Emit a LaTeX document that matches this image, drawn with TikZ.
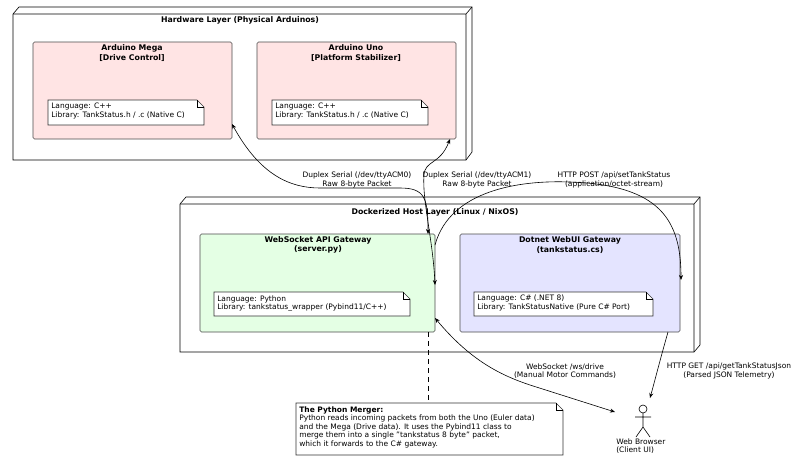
\documentclass[tikz,border=0pt]{standalone}
\usepackage{fontspec}
\setmainfont{DejaVu Sans}
\usetikzlibrary{arrows.meta}
\definecolor{pinkf}{HTML}{FFE4E4}
\definecolor{greenf}{HTML}{E4FFE4}
\definecolor{bluef}{HTML}{E4E4FF}
\begin{document}
\begin{tikzpicture}[x=1pt,y=-1pt,line width=0.6pt,
 every node/.style={font=\fontsize{7.5}{8.6}\selectfont,inner sep=0pt},
 lbl/.style={align=center},
 ttl/.style={align=center,font=\fontsize{7.8}{9.4}\selectfont\bfseries},
 comp/.style={draw=black!70,rounded corners=1.5pt},
 note/.style={draw=black!80,fill=white},
 arr/.style={-{Stealth[length=5pt,width=4pt]}},
 barr/.style={{Stealth[length=5pt,width=4pt]}-{Stealth[length=5pt,width=4pt]}}]
\useasboundingbox (0,0) rectangle (806,466);
% hardware 3D node
\draw[fill=white] (13,14) -- (19,7) -- (472,7) -- (472,152) -- (466,160) -- (13,160) -- cycle;
\draw (13,14) -- (466,14) -- (466,160) (466,14) -- (472,7);
\node[ttl] (hw) at (240,20) {Hardware Layer (Physical Arduinos)};
% Mega
\draw[comp,fill=pinkf] (33,42) rectangle (232,139);
\node[ttl] (megat) at (132,53) {Arduino Mega\\{[}Drive Control{]}};
\coordinate (mega) at (232,124);
\draw[note] (48,100) -- (197,100) -- (204,107) -- (204,125) -- (48,125) -- cycle;
\draw (197,100) -- (197,107) -- (204,107);
\node[align=left,anchor=north west] (megan) at (51,103) {Language: C++\\Library: TankStatus.h / .c (Native C)};
% Uno
\draw[comp,fill=pinkf] (257,42) rectangle (456,139);
\node[ttl] (unot) at (356,53) {Arduino Uno\\{[}Platform Stabilizer{]}};
\coordinate (uno) at (450,139);
\draw[note] (272,100) -- (421,100) -- (428,107) -- (428,125) -- (272,125) -- cycle;
\draw (421,100) -- (421,107) -- (428,107);
\node[align=left,anchor=north west] (unon) at (275,103) {Language: C++\\Library: TankStatus.h / .c (Native C)};
% docker 3D node
\draw[fill=white] (180,204) -- (186,197) -- (700,197) -- (700,345) -- (694,352) -- (180,352) -- cycle;
\draw (180,204) -- (694,204) -- (694,352) (694,204) -- (700,197);
\node[ttl] (dk) at (435,212) {Dockerized Host Layer (Linux / NixOS)};
% WS
\draw[comp,fill=greenf] (200,234) rectangle (435,332);
\node[ttl] (wst) at (318,245) {WebSocket API Gateway\\(server.py)};
\draw[note] (214,292) -- (403,292) -- (410,299) -- (410,316) -- (214,316) -- cycle;
\draw (403,292) -- (403,299) -- (410,299);
\node[align=left,anchor=north west] (wsn) at (217,295) {Language: Python\\Library: tankstatus\_wrapper (Pybind11/C++)};
% Dotnet
\draw[comp,fill=bluef] (460,234) rectangle (680,332);
\node[ttl] (dnt) at (570,245) {Dotnet WebUI Gateway\\(tankstatus.cs)};
\draw[note] (474,292) -- (646,292) -- (653,299) -- (653,316) -- (474,316) -- cycle;
\draw (646,292) -- (646,299) -- (653,299);
\node[align=left,anchor=north west] (dnn) at (477,295) {Language: C\# (.NET 8)\\Library: TankStatusNative (Pure C\# Port)};
% Python merger note
\draw[note] (296,403) -- (556,403) -- (563,410) -- (563,455) -- (296,455) -- cycle;
\draw (556,403) -- (556,410) -- (563,410);
\node[align=left,anchor=north west] (pm) at (299,406) {\textbf{The Python Merger:}\\Python reads incoming packets from both the Uno (Euler data)\\and the Mega (Drive data). It uses the Pybind11 class to\\merge them into a single "tankstatus 8 byte" packet,\\which it forwards to the C\# gateway.};
\coordinate (wsbot) at (428,332);
\coordinate (pmtop) at (428,403);
\draw[line width=0.5pt,dash pattern=on 5pt off 4pt] (wsbot) -- (pmtop);
% actor
\draw (643,409) circle (4);
\draw (643,413) -- (643,427) (635,417) -- (651,417) (643,427) -- (636,437) (643,427) -- (650,437);
\node[align=left,anchor=north west] (wb) at (616,438) {Web Browser\\(Client UI)};
\coordinate (br1) at (615,412);
\coordinate (br2) at (650,398);
% edges
\coordinate (ws1) at (428,234);
\coordinate (ws2) at (435,285);
\coordinate (ws3) at (435,245);
\coordinate (ws4) at (435,318);
\coordinate (dn1) at (681,280);
\coordinate (dn2) at (668,332);
\draw[barr] (mega) .. controls (260,175) and (290,188) .. (320,188) -- (400,188) .. controls (425,188) and (428,198) .. (ws1);
\node[lbl] (l1) at (357,180) {Duplex Serial (/dev/ttyACM0)\\Raw 8-byte Packet};
\draw[barr] (uno) .. controls (440,165) and (425,160) .. (424,175) .. controls (422,200) and (433,240) .. (ws2);
\node[lbl] (l2) at (477,180) {Duplex Serial (/dev/ttyACM1)\\Raw 8-byte Packet};
\draw[arr] (ws3) .. controls (450,190) and (520,180) .. (570,182) .. controls (660,185) and (681,220) .. (dn1);
\node[lbl] (l3) at (614,180) {HTTP POST /api/setTankStatus\\(application/octet-stream)};
\draw[barr] (ws4) .. controls (470,360) and (500,375) .. (530,385) -- (br1);
\node[lbl] (l4) at (565,371) {WebSocket /ws/drive\\(Manual Motor Commands)};
\draw[arr] (dn2) .. controls (660,360) and (655,380) .. (br2);
\node[lbl] (l5) at (729,371) {HTTP GET /api/getTankStatusJson\\(Parsed JSON Telemetry)};
\end{tikzpicture}
\end{document}
